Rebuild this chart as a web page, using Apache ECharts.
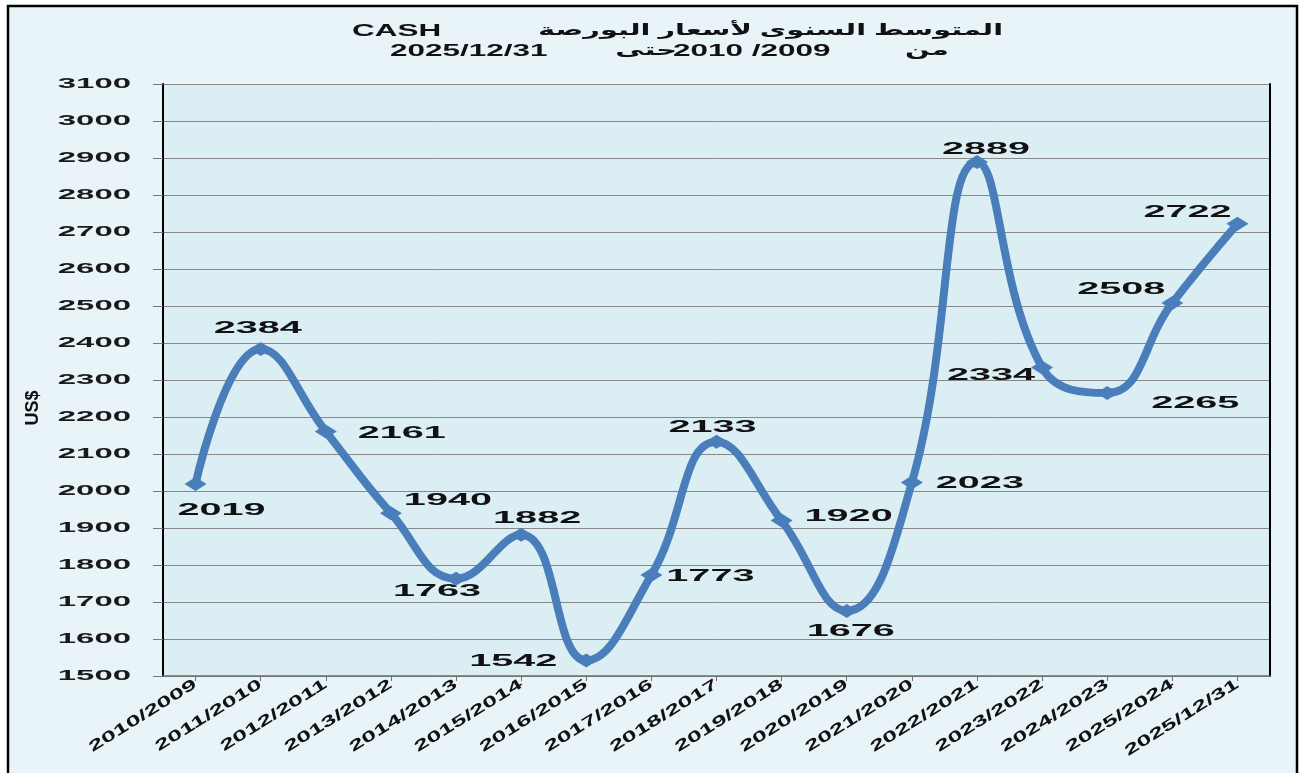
<!DOCTYPE html>
<html><head><meta charset="utf-8">
<script src="https://cdn.jsdelivr.net/npm/echarts@6/dist/echarts.min.js"></script>
<style>html,body{margin:0;padding:0;background:#fff}#c{width:1300px;height:773px}</style>
</head><body><div id="c"></div>
<script>
// ---- data ----
const categories = ['2010/2009','2011/2010','2012/2011','2013/2012','2014/2013','2015/2014','2016/2015','2017/2016','2018/2017','2019/2018','2020/2019','2021/2020','2022/2021','2023/2022','2024/2023','2025/2024','2025/12/31'];
const values = [2019, 2384, 2161, 1940, 1763, 1882, 1542, 1773, 2133, 1920, 1676, 2023, 2889, 2334, 2265, 2508, 2722];
const yMin = 1500, yMax = 3100, yStep = 100;
const titleLine1 = ['CASH', 'المتوسط السنوى لأسعار البورصة'];
const titleLine2 = ['2025/12/31', 'حتى', '2010 /2009', 'من'];
const yAxisName = 'US$';

// ---- styling (label offsets from each point, px) ----
const labelOffsets = [[26,26],[-3,-20],[76,2],[57,-13],[-19,13],[16,-16],[-73,1],[59,1],[-4,-14],[67,-4],[4,21],[68,1],[9,-13],[-51,8],[88,11],[-51,-14],[-50,-11]];
const FF = "'Liberation Sans', 'DejaVu Sans', Arial, sans-serif";
// the reference renders its text horizontally stretched; widen glyphs per font size
const STRETCH = {'16.5px': 2.4, '14.5px': 2.27, '15px': 1.75, '17px': 1.85, '16px': 1.8};
(function(){
  const P = CanvasRenderingContext2D.prototype, fill = P.fillText;
  P.fillText = function(t, x, y){
    const m = /(\d+(?:\.\d+)?px)/.exec(this.font);
    const k = m && STRETCH[m[1]];
    if (!k) return fill.call(this, t, x, y);
    this.save(); this.translate(x, y); this.scale(k, 1);
    fill.call(this, t, 0, 0);
    this.restore();
  };
})();

const chart = echarts.init(document.getElementById('c'), null, {renderer: 'canvas'});
const txt = (text, x, y, align, size) => ({
  type: 'text', x: x, y: y, z: 10,
  style: {text: text, fill: '#111', font: 'bold ' + size + 'px ' + FF, textAlign: align, textVerticalAlign: 'middle'}
});
chart.setOption({
  backgroundColor: '#fff',
  animation: false,
  graphic: [
    {type: 'rect', z: -100, shape: {x: 8, y: 6, width: 1289, height: 800}, style: {fill: '#e8f4f8', stroke: '#000', lineWidth: 2.5}},
    txt(titleLine1[0], 352, 31, 'left', 17),
    txt(titleLine1[1], 1003, 31, 'right', 16),
    txt(titleLine2[0], 390, 51, 'left', 17),
    txt(titleLine2[1], 677, 51, 'right', 16),
    txt(titleLine2[2], 673, 51, 'left', 17),
    txt(titleLine2[3], 905, 51, 'left', 16)
  ],
  grid: {left: 163, top: 84, width: 1107, height: 592, show: true, backgroundColor: '#daeef3', borderWidth: 0},
  xAxis: {
    type: 'category', data: categories, boundaryGap: true,
    axisLine: {lineStyle: {color: '#6e6e6e', width: 1.5}},
    axisTick: {show: true, alignWithLabel: true, length: 5, interval: 0, lineStyle: {color: '#6e6e6e'}},
    axisLabel: {interval: 0, rotate: 32, margin: 7, color: '#111', fontSize: 15, fontWeight: 'bold', fontFamily: FF}
  },
  yAxis: [{
    type: 'value', min: yMin, max: yMax, interval: yStep,
    name: yAxisName, nameLocation: 'middle', nameRotate: 90, nameGap: 121,
    nameTextStyle: {color: '#111', fontSize: 18, fontWeight: 'bold', fontFamily: FF, padding: [0, 56, 0, 0]},
    axisLine: {show: true, lineStyle: {color: '#000', width: 2}},
    axisTick: {show: true, length: 10, lineStyle: {color: '#777'}},
    axisLabel: {margin: 32, color: '#1a1a1a', fontSize: 14.5, fontWeight: 'bold', fontFamily: FF, formatter: v => String(v)},
    splitLine: {lineStyle: {color: '#888', width: 1}}
  }, {
    type: 'value', min: yMin, max: yMax, interval: yStep, position: 'right',
    axisLine: {show: true, lineStyle: {color: '#000', width: 2}},
    axisTick: {show: false}, axisLabel: {show: false}, splitLine: {show: false}
  }],
  series: [{
    type: 'line', data: values.map((v, i) => ({value: v, label: {offset: labelOffsets[i]}})),
    smooth: 0.45,
    lineStyle: {color: '#4a7ebb', width: 8},
    itemStyle: {color: '#4a7ebb'},
    symbol: 'diamond', symbolSize: [22, 14],
    label: {show: true, position: 'inside', align: 'center', verticalAlign: 'middle', color: '#111', fontSize: 16.5, fontWeight: 'bold', fontFamily: FF}
  }]
});
</script></body></html>
